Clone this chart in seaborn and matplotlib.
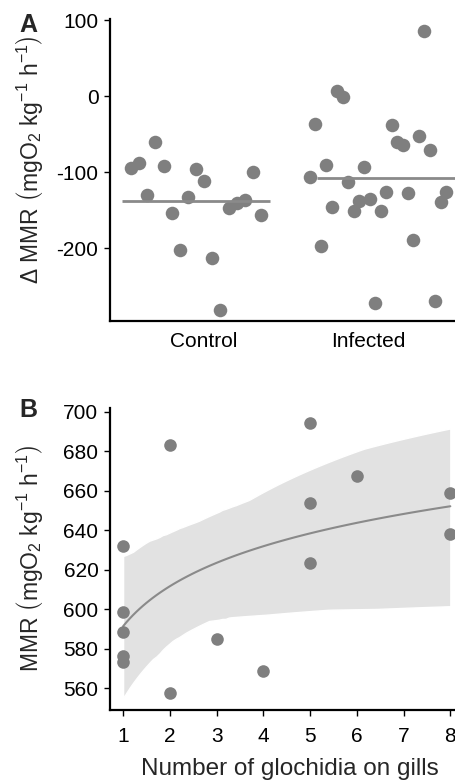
import numpy as np
import matplotlib
matplotlib.use("Agg")
import matplotlib.pyplot as plt
import seaborn as sns

# ---------------------------------------------------------
# DATA
# ---------------------------------------------------------
groups = ["Control", "Infected"]

control_dmmr = [-94, -88, -130, -61, -92, -154, -202, -133, -96, -112,
                -213, -282, -147, -141, -137, -100, -156]
infected_dmmr = [-106, -37, -197, -91, -146, 7, -1, -113, -151, -138,
                 -93, -136, -272, -151, -126, -38, -61, -65, -127, -190,
                 -53, 86, -71, -270, -140, -126]

glochidia = [1, 1, 1, 1, 1, 2, 2, 3, 4, 5, 5, 5, 6, 8, 8]
mmr = [632, 598.6, 588.3, 576.5, 573.3, 683.3, 557.8, 585, 568.6,
       694.3, 654.1, 623.4, 667.3, 659, 638.3]

# layout: horizontal spread of the points and mean bars per group
point_span = [(-0.445, 0.348), (0.646, 1.476)]
bar_span = [(-0.50, 0.40), (0.69, 1.60)]

POINT = "#7f7f7f"
LINE = "#8a8a8a"
BAND = "#e2e2e2"

sns.set_style("ticks")
plt.rcParams["font.family"] = ["Liberation Sans", "DejaVu Sans"]
plt.rcParams["mathtext.fontset"] = "custom"
plt.rcParams["mathtext.rm"] = "Liberation Sans"
plt.rcParams["mathtext.it"] = "Liberation Sans:italic"
plt.rcParams["mathtext.bf"] = "Liberation Sans:bold"
plt.rcParams["axes.unicode_minus"] = False
plt.rcParams["axes.linewidth"] = 1.6
plt.rcParams["xtick.major.width"] = 1.0
plt.rcParams["ytick.major.width"] = 1.0
plt.rcParams["xtick.major.size"] = 4.3
plt.rcParams["ytick.major.size"] = 4.3
plt.rcParams["xtick.color"] = "black"
plt.rcParams["ytick.color"] = "black"
plt.rcParams["axes.edgecolor"] = "black"

W, H = 455, 781
fig = plt.figure(figsize=(W / 100, H / 100), dpi=100)

# ---------------------------------------------------------
# PANEL A
# ---------------------------------------------------------
axA = fig.add_axes([110 / W, 1 - 321 / H, 1 - 110 / W, (321 - 19) / H])
for vals, (lo, hi), (blo, bhi) in zip([control_dmmr, infected_dmmr], point_span, bar_span):
    xs = np.linspace(lo, hi, len(vals))
    sns.scatterplot(x=xs, y=vals, ax=axA, color=POINT, s=95, linewidth=0, alpha=1)
    axA.hlines(np.mean(vals), blo, bhi, color=LINE, lw=2.0, zorder=3)

axA.set_xlim(-0.573, 1.530)
axA.set_ylim(-296, 101.5)
axA.set_xticks(range(len(groups)))
axA.set_xticklabels(groups)
axA.set_yticks([100, 0, -100, -200])
axA.tick_params(axis="x", length=0, pad=8, labelsize=15)
axA.tick_params(axis="y", pad=4, labelsize=15)
sns.despine(ax=axA)
axA.set_ylabel(r"$\Delta$ MMR $\left(\mathrm{mgO_2\ kg^{-1}\ h^{-1}}\right)$",
               fontsize=16.5, va="center")
axA.yaxis.set_label_coords(-0.232, 0.533)

# ---------------------------------------------------------
# PANEL B
# ---------------------------------------------------------
axB = fig.add_axes([110 / W, 1 - 710 / H, 1 - 110 / W, (710 - 408) / H])
sns.regplot(x=np.array(glochidia), y=np.array(mmr), logx=True, ci=99, seed=3,
            ax=axB, color=LINE,
            scatter_kws={"s": 82, "color": POINT, "linewidths": 0, "alpha": 1, "zorder": 4},
            line_kws={"color": LINE, "lw": 1.5})
axB.collections[-1].set_facecolor(BAND)
axB.collections[-1].set_alpha(1)

axB.set_xlim(0.72, 8.1)
axB.set_ylim(549, 702)
axB.set_xticks(range(1, 9))
axB.set_yticks(range(560, 701, 20))
axB.tick_params(axis="x", pad=8, labelsize=15)
axB.tick_params(axis="y", pad=4, labelsize=15)
sns.despine(ax=axB)
axB.set_xlabel("Number of glochidia on gills", fontsize=17.5, va="bottom")
axB.xaxis.set_label_coords(0.52, -70 / 302)
axB.set_ylabel(r"MMR $\left(\mathrm{mgO_2\ kg^{-1}\ h^{-1}}\right)$",
               fontsize=16.5, va="center")
axB.yaxis.set_label_coords(-0.232, 0.502)

fig.text(28 / W, 1 - 25 / H, "A", fontsize=18, fontweight="bold", ha="center", va="center")
fig.text(28 / W, 1 - 410 / H, "B", fontsize=18, fontweight="bold", ha="center", va="center")

fig.savefig("out.png", dpi=100)
